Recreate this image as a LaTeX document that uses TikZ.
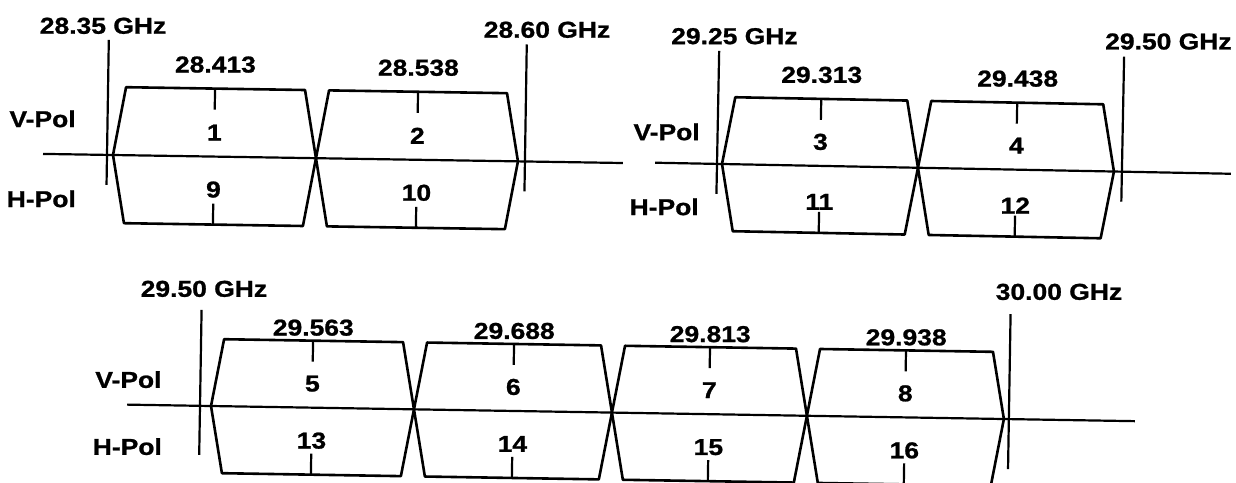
\documentclass[tikz,border=0pt]{standalone}
\usepackage{fontspec}
\setmainfont{Liberation Sans}[FakeStretch=1.15, BoldFeatures={FakeBold=1}]
\usepackage{tikz}

\begin{document}
\begin{tikzpicture}[x=1pt, y=-1pt,
    canale/.style={line width=2.6pt, line join=round},
    asse/.style={line width=2.2pt},
    tacca/.style={line width=2.2pt},
    testo/.style={font=\bfseries\fontsize{23}{25}\selectfont, inner sep=0pt}]
\useasboundingbox (0,0) rectangle (1236,482);

% Gruppo 1: 28.35 - 28.60 GHz
\begin{scope}[shift={(113,155)}, rotate=-0.9]
    % Vertici principali
    \coordinate (aL) at (-70,0);
    \coordinate (aR) at (510,0);
    \coordinate (aI) at (-6,-115);
    \coordinate (aJ) at (-6,30);
    \coordinate (aK) at (412,-117);
    \coordinate (aM) at (412,30);
    % Assi e limiti
    \draw[asse] (aL) -- (aR);
    \draw[asse] (aI) -- (aJ);
    \draw[asse] (aK) -- (aM);
    % Canali
    \draw[canale] (0,0) -- (12,-68) -- (191,-68) -- (203,0) -- (191,68) -- (12,68) -- cycle;
    \draw[canale] (203,0) -- (215,-68) -- (393,-68) -- (405,0) -- (393,68) -- (215,68) -- cycle;
    \draw[tacca] (101,-68) -- (101,-47);
    \draw[tacca] (101,68) -- (101,47);
    \draw[tacca] (304,-68) -- (304,-47);
    \draw[tacca] (304,68) -- (304,47);
    % Etichette
    \node[testo] (ga1) at (-12,-129) {28.35 GHz};
    \node[testo] (gb1) at (432,-132) {28.60 GHz};
    \node[testo] (fr1) at (101,-92) {28.413};
    \node[testo] (fr2) at (304,-92) {28.538};
    \node[testo] (ch1) at (101,-24) {1};
    \node[testo] (ch2) at (304,-24) {2};
    \node[testo] (ch9) at (101,33) {9};
    \node[testo] (ch10) at (304,33) {10};
    \node[testo] (vp1) at (-71,-35) {V-Pol};
    \node[testo] (hp1) at (-71,45) {H-Pol};
\end{scope}

% Gruppo 2: 29.25 - 29.50 GHz
\begin{scope}[shift={(722,164)}, rotate=-1.1]
    % Vertici principali
    \coordinate (bL) at (-67,0);
    \coordinate (bR) at (509,0);
    \coordinate (bI) at (-5,-113);
    \coordinate (bJ) at (-5,30);
    \coordinate (bK) at (400,-115);
    \coordinate (bM) at (400,30);
    % Assi e limiti
    \draw[asse] (bL) -- (bR);
    \draw[asse] (bI) -- (bJ);
    \draw[asse] (bK) -- (bM);
    % Canali
    \draw[canale] (0,0) -- (12,-67) -- (184,-67) -- (196,0) -- (184,67) -- (12,67) -- cycle;
    \draw[canale] (196,0) -- (208,-67) -- (380,-67) -- (392,0) -- (380,67) -- (208,67) -- cycle;
    \draw[tacca] (98,-67) -- (98,-46);
    \draw[tacca] (98,67) -- (98,46);
    \draw[tacca] (294,-67) -- (294,-46);
    \draw[tacca] (294,67) -- (294,46);
    % Etichette
    \node[testo] (ga2) at (10,-128) {29.25 GHz};
    \node[testo] (gb2) at (444,-131) {29.50 GHz};
    \node[testo] (fr3) at (98,-91) {29.313};
    \node[testo] (fr4) at (294,-91) {29.438};
    \node[testo] (ch3) at (98,-24) {3};
    \node[testo] (ch4) at (294,-24) {4};
    \node[testo] (ch11) at (98,36) {11};
    \node[testo] (ch12) at (294,36) {12};
    \node[testo] (vp2) at (-56,-31) {V-Pol};
    \node[testo] (hp2) at (-57,44) {H-Pol};
\end{scope}

% Gruppo 3: 29.50 - 30.00 GHz
\begin{scope}[shift={(211,406)}, rotate=-0.94]
    % Vertici principali
    \coordinate (cL) at (-84,0);
    \coordinate (cR) at (924,0);
    \coordinate (cI) at (-11,-96);
    \coordinate (cJ) at (-11,49);
    \coordinate (cK) at (798,-105);
    \coordinate (cM) at (798,50);
    % Assi e limiti
    \draw[asse] (cL) -- (cR);
    \draw[asse] (cI) -- (cJ);
    \draw[asse] (cK) -- (cM);
    % Canali
    \draw[canale] (0,0) -- (12,-67) -- (191,-67) -- (203,0) -- (191,67) -- (12,67) -- cycle;
    \draw[canale] (203,0) -- (215,-67) -- (389,-67) -- (401,0) -- (389,67) -- (215,67) -- cycle;
    \draw[canale] (401,0) -- (413,-67) -- (584,-67) -- (596,0) -- (584,67) -- (413,67) -- cycle;
    \draw[canale] (596,0) -- (608,-67) -- (781,-67) -- (793,0) -- (781,67) -- (608,67) -- cycle;
    \draw[tacca] (101,-67) -- (101,-46);
    \draw[tacca] (101,67) -- (101,46);
    \draw[tacca] (302,-67) -- (302,-46);
    \draw[tacca] (302,67) -- (302,46);
    \draw[tacca] (498,-67) -- (498,-46);
    \draw[tacca] (498,67) -- (498,46);
    \draw[tacca] (694,-67) -- (694,-46);
    \draw[tacca] (694,67) -- (694,46);
    % Etichette
    \node[testo] (ga3) at (-9,-117) {29.50 GHz};
    \node[testo] (gb3) at (846,-128) {30.00 GHz};
    \node[testo] (fr5) at (101,-80) {29.563};
    \node[testo] (fr6) at (302,-80) {29.688};
    \node[testo] (fr7) at (498,-80) {29.813};
    \node[testo] (fr8) at (694,-80) {29.938};
    \node[testo] (ch5) at (101,-24) {5};
    \node[testo] (ch6) at (302,-24) {6};
    \node[testo] (ch7) at (498,-24) {7};
    \node[testo] (ch8) at (694,-24) {8};
    \node[testo] (ch13) at (101,33) {13};
    \node[testo] (ch14) at (302,33) {14};
    \node[testo] (ch15) at (498,33) {15};
    \node[testo] (ch16) at (694,33) {16};
    \node[testo] (vp3) at (-83,-25) {V-Pol};
    \node[testo] (hp3) at (-83,42) {H-Pol};
\end{scope}
\end{tikzpicture}
\end{document}
